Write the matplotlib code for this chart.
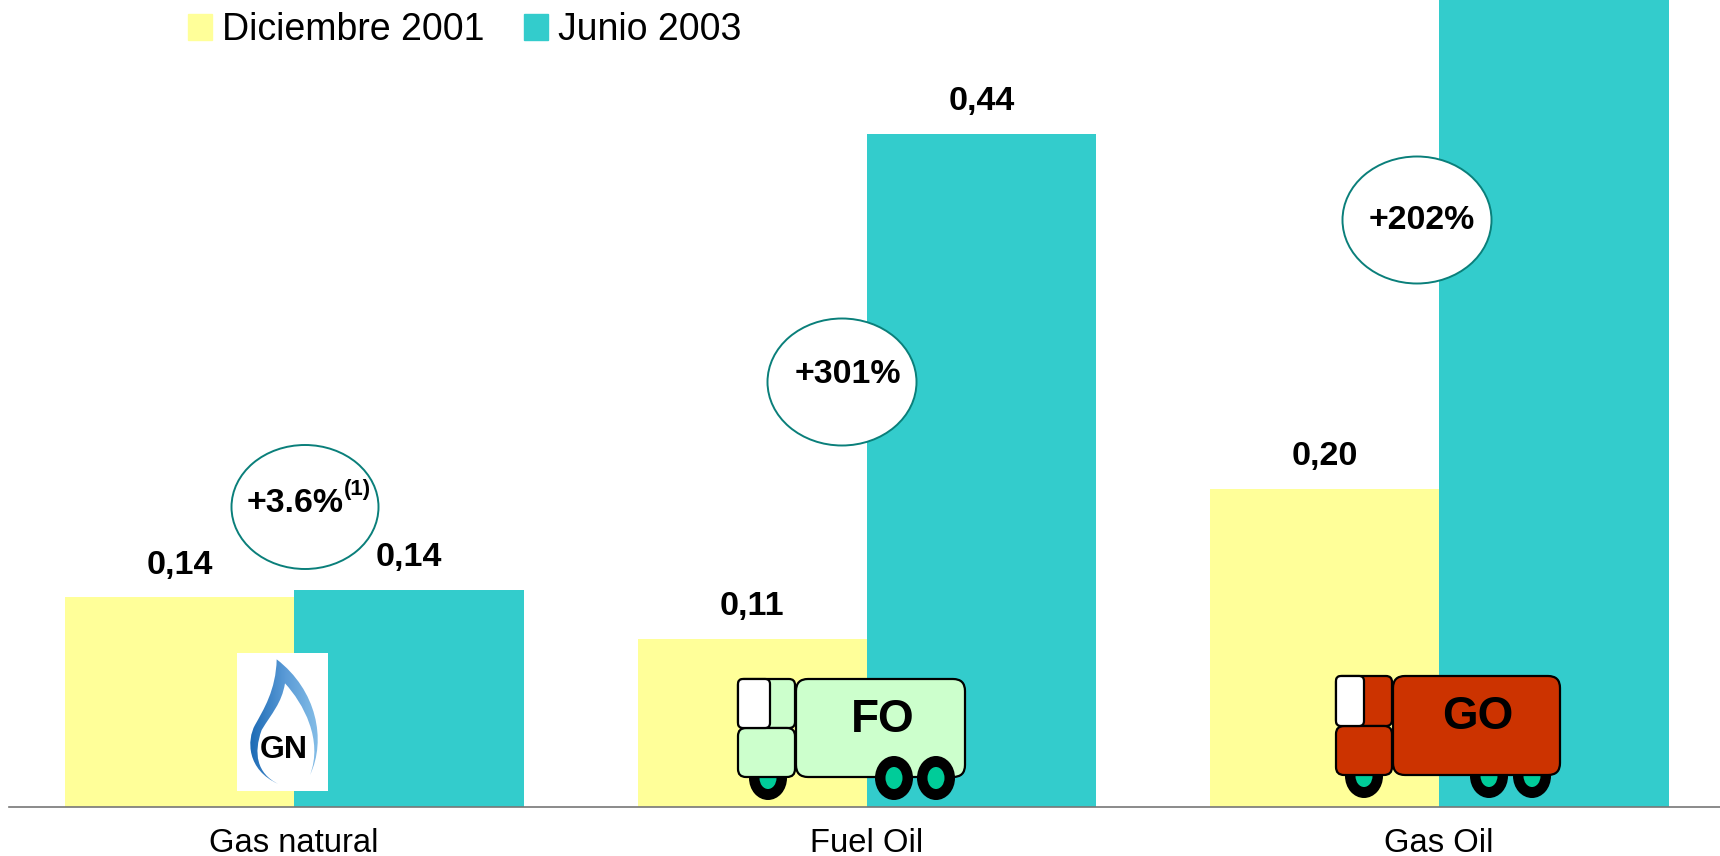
import numpy as np
import matplotlib
matplotlib.use("Agg")
import matplotlib.pyplot as plt
from matplotlib.colors import LinearSegmentedColormap
from matplotlib.patches import Ellipse, FancyBboxPatch, PathPatch, Patch, Rectangle
from matplotlib.path import Path

plt.rcParams["font.family"] = ["Liberation Sans", "DejaVu Sans"]

# Data
categories = ["Gas natural", "Fuel Oil", "Gas Oil"]
dic_2001 = [0.137, 0.11, 0.208]
jun_2003 = [0.142, 0.44, 0.628]
dic_labels = ["0,14", "0,11", "0,20"]
jun_labels = ["0,14", "0,44", ""]
series_names = ["Diciembre 2001", "Junio 2003"]

YELLOW = "#ffff99"
TEAL = "#33cccc"
RING = "#0a7f7a"
W, H = 1720, 856

fig = plt.figure(figsize=(W / 100, H / 100), dpi=100)
ax = fig.add_axes([9 / W, (H - 806.7) / H, (W - 9) / W, 806.7 / H])

x = np.arange(len(categories))
bars1 = ax.bar(x - 0.2, dic_2001, width=0.4, color=YELLOW)
bars2 = ax.bar(x + 0.2008, jun_2003, width=0.4016, color=TEAL)

for bars, labels in [(bars1, dic_labels), (bars2, jun_labels)]:
    for b, lab in zip(bars, labels):
        ax.annotate(lab, (b.get_x() + b.get_width() / 2, b.get_height()),
                    xytext=(0, 23.2), textcoords="offset points",
                    ha="center", va="center", fontsize=24.6, fontweight="bold")

ax.set_xlim(-0.498, 2.491)
ax.set_ylim(0, 806.7 / 1529)
ax.set_xticks(x, categories, fontsize=23.6)
ax.set_yticks([])
ax.tick_params(axis="x", length=0, pad=15.5)
for s in ["top", "left", "right"]:
    ax.spines[s].set_visible(False)
ax.spines["bottom"].set_color("#777777")
ax.spines["bottom"].set_linewidth(1.2)

fig.legend(handles=[Patch(color=YELLOW), Patch(color=TEAL)], labels=series_names,
           loc="center left", bbox_to_anchor=(188 / W, 1 - 30 / H), ncol=2,
           frameon=False, fontsize=27, borderpad=0, borderaxespad=0,
           handlelength=0.64, handleheight=0.7, handletextpad=0.28, columnspacing=1.03)

# overlay in pixel coordinates for the callouts and drawings
ov = fig.add_axes([0, 0, 1, 1], facecolor="none")
ov.set_xlim(0, W)
ov.set_ylim(H, 0)
ov.axis("off")

for cx, cy, w, h in [(305, 507, 147, 124), (842, 382, 149, 127), (1417, 220, 149, 127)]:
    ov.add_patch(Ellipse((cx, cy), w, h, fc="white", ec=RING, lw=1.4))

pct = dict(ha="center", va="center", fontsize=24.4, fontweight="bold")
ov.text(848, 374, "+301%", **pct)
ov.text(1422, 220, "+202%", **pct)
ov.text(295, 504, "+3.6%", **pct)
ov.text(357, 489, "(1)", ha="center", va="center", fontsize=16, fontweight="bold")

# GN logo
ov.add_patch(Rectangle((237, 653), 91, 138, fc="white", ec="none"))
flame = Path(
    np.array([(230, 718), (228, 810), (190, 870), (165, 915), (140, 960), (140, 1050), (235, 1092),
              (170, 1060), (160, 1000), (185, 930), (215, 880), (245, 850), (255, 790),
              (310, 850), (370, 960), (330, 1065), (380, 960), (350, 810), (230, 718)], dtype=float)
    / 3 + (200, 420),
    [Path.MOVETO] + [Path.CURVE4] * 18)
flame_patch = PathPatch(flame, fc="none", ec="none", transform=ov.transData)
ov.add_patch(flame_patch)
grad = ov.imshow(np.linspace(0, 1, 64).reshape(1, -1), extent=(245, 325, 795, 655), aspect="auto", zorder=2,
                 cmap=LinearSegmentedColormap.from_list("f", ["#1464b0", "#5a9ad6", "#8cc4ea"]))
grad.set_clip_path(flame_patch)
ov.set_xlim(0, W)
ov.set_ylim(H, 0)
ov.text(284, 750, "GN", ha="center", va="center", fontsize=23, fontweight="bold", zorder=3)


def rbox(x0, y0, x1, y1, r, fc, z):
    ov.add_patch(FancyBboxPatch((x0 + r, y0 + r), x1 - x0 - 2 * r, y1 - y0 - 2 * r,
                                boxstyle="round,pad=%d,rounding_size=%d" % (r, r),
                                fc=fc, ec="black", lw=1.6, zorder=z))


def wheel(cx, cy, z):
    ov.add_patch(Ellipse((cx, cy), 38, 44, fc="black", ec="none", zorder=z))
    ov.add_patch(Ellipse((cx, cy), 17, 22, fc="#00cc99", ec="none", zorder=z + 0.1))


def truck(x0, y0, y_mid, y1, cab_r, tank_l, tank_r, win_r, fc, wheels, wheel_z, code, tx, ty):
    wheel(wheels[0], y1 + 1, 3)
    for wx in wheels[1:]:
        wheel(wx, y1 + 1, wheel_z)
    rbox(tank_l, y0, tank_r, y1, 12, fc, 4)
    rbox(x0, y0, cab_r, y_mid, 6, fc, 4)
    rbox(x0, y_mid, cab_r, y1, 8, fc, 4)
    rbox(x0, y0, win_r, y_mid, 5, "white", 4.5)
    ov.text(tx, ty, code, ha="center", va="center_baseline", fontsize=33, fontweight="bold", zorder=6)


truck(738, 679, 728, 777, 795, 796, 965, 770, "#ccffcc", [768, 894, 936], 5, "FO", 883, 715)
truck(1336, 676, 726, 775, 1392, 1393, 1560, 1364, "#cc3300", [1364, 1489, 1532], 3, "GO", 1478, 712)

fig.savefig("out.png", dpi=100)
